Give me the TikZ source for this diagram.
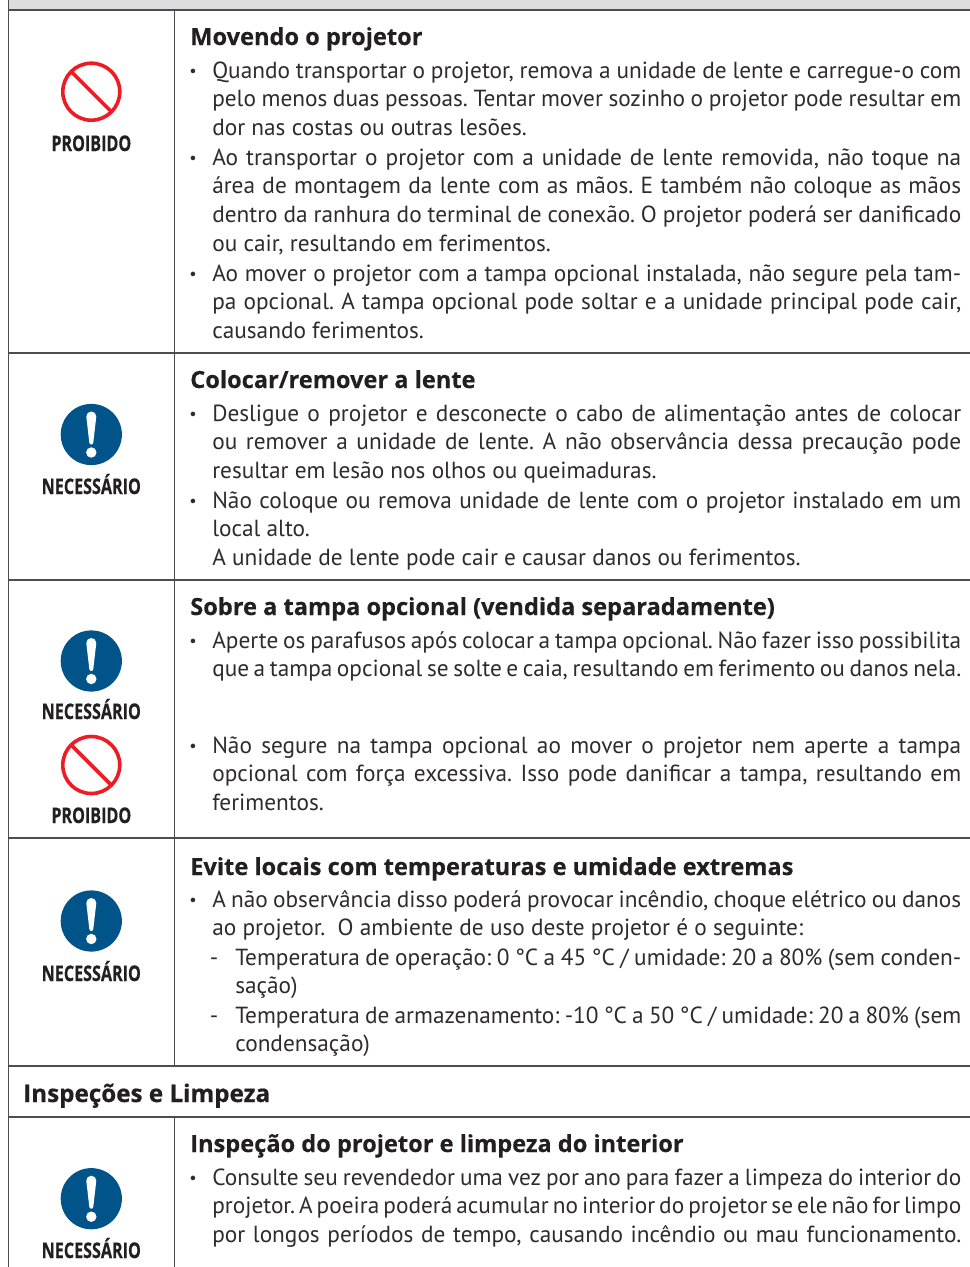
\documentclass[tikz,border=0pt]{standalone}
\usepackage{fontspec}
\setmainfont{PT Sans}
\newfontfamily\headfont[BoldFeatures={FakeBold=0.35}]{Open Sans}
\newfontfamily\signfont[BoldFeatures={FakeBold=0.6}]{Open Sans}
\newdimen\px \px=0.75pt
\definecolor{rulec}{HTML}{4D4D4F}
\definecolor{bandc}{HTML}{DCDDDE}
\definecolor{bodyc}{HTML}{2E2B2C}
\definecolor{headc}{HTML}{231F20}
\definecolor{stopc}{HTML}{ED1C24}
\definecolor{mustc}{HTML}{00548A}
\newcommand\bodyfont{\fontsize{23.3\px}{28.9\px}\selectfont}
\newcommand\jl[2]{\hbox to #1\px{\spaceskip=.23em plus 1em minus .12em\xspaceskip=\spaceskip\frenchspacing\hbadness=10000 \hfuzz=20pt #2}}
\newcommand\nl[1]{\hbox{#1}}
\newcommand\bul{\llap{\raisebox{.05em}{\scalebox{.7}{•}}\hskip 15.5\px}}
\newcommand\dashl{\llap{-\hskip 17\px}}
\tikzset{
  x=0.75pt,y=-0.75pt,
  rulel/.style={draw=rulec,line width=1.3*0.75pt},
  headtxt/.style={anchor=base west,inner sep=0pt,text=headc,font=\headfont\bfseries\fontsize{23.6\px}{29\px}\selectfont},
  sectxt/.style={anchor=base west,inner sep=0pt,text=headc,font=\signfont\bfseries\fontsize{24.2\px}{29\px}\selectfont},
  bodytxt/.style={anchor=base west,inner sep=0pt,text=bodyc,font=\bodyfont},
  signtxt/.style={anchor=base,inner sep=0pt,text=headc,font=\signfont\bfseries\fontsize{21.5\px}{24\px}\selectfont},
  pics/proibido/.style={code={
    \draw[stopc,line width=3.6*0.75pt] (0,0) circle[radius=28.5];
    \draw[stopc,line width=3.6*0.75pt] (-19.5,-19.5) -- (19.5,19.5);
  }},
  pics/necessario/.style={code={
    \fill[mustc] (0,0) circle[radius=30.6];
    \fill[white] (-5,-18) arc[start angle=-180,end angle=0,radius=5] -- (2,8) arc[start angle=0,end angle=180,radius=2] -- cycle;
    \fill[white] (0,18) circle[radius=5.2];
  }},
}
\newcommand\lblP[2]{\node[signtxt] (#1) at (91.3,#2) {\scalebox{.75}[1]{PROIBIDO}};}
\newcommand\lblN[2]{\node[signtxt] (#1) at (91.3,#2) {\scalebox{.75}[1]{NECESSÁRIO}};}
\begin{document}
\begin{tikzpicture}
\useasboundingbox (0,0) rectangle (970,1267);
\clip (0,0) rectangle (970,1267);
% band and rules
\fill[bandc] (8,0) rectangle (970,10);
\path[rulel] (8.5,0) -- (8.5,1267);
\path[rulel] (174.5,10) -- (174.5,1066);
\path[rulel] (174.5,1117) -- (174.5,1267);
\foreach \yy in {10,353,580,838,1066,1117}{\path[rulel] (8,\yy) -- (970,\yy);}
% signs
\pic at (91.3,91.7) {proibido};   \lblP{s1}{151}
\pic at (91.3,434.5) {necessario}; \lblN{s2}{494}
\pic at (91.3,661) {necessario};  \lblN{s3}{719}
\pic at (91.3,765) {proibido};    \lblP{s4}{823}
\pic at (91.3,921) {necessario};  \lblN{s5}{981}
\pic at (91.3,1198.7) {necessario}; \lblN{s6}{1258}
% section 1
\node[headtxt] (h1) at (190,45) {Movendo o projetor};
\node[bodytxt] (t1a) at (212,78) {\vtop{
  \jl{749}{\bul Quando transportar o projetor, remova a unidade de lente e carregue-o com}
  \jl{749}{pelo menos duas pessoas. Tentar mover sozinho o projetor pode resultar em}
  \nl{dor nas costas ou outras lesões.}}};
\node[bodytxt] (t1b) at (212,165) {\vtop{
  \jl{749}{\bul Ao transportar o projetor com a unidade de lente removida, não toque na}
  \jl{749}{área de montagem da lente com as mãos. E também não coloque as mãos}
  \jl{749}{dentro da ranhura do terminal de conexão. O projetor poderá ser danificado}
  \nl{ou cair, resultando em ferimentos.}}};
\node[bodytxt] (t1c) at (212,281) {\vtop{
  \jl{749}{\bul Ao mover o projetor com a tampa opcional instalada, não segure pela tam-}
  \jl{749}{pa opcional. A tampa opcional pode soltar e a unidade principal pode cair,}
  \nl{causando ferimentos.}}};
% section 2
\node[headtxt] (h2) at (190,388) {Colocar/remover a lente};
\node[bodytxt] (t2a) at (212,421) {\vtop{
  \jl{749}{\bul Desligue o projetor e desconecte o cabo de alimentação antes de colocar}
  \jl{749}{ou remover a unidade de lente. A não observância dessa precaução pode}
  \nl{resultar em lesão nos olhos ou queimaduras.}}};
\node[bodytxt] (t2b) at (212,508) {\vtop{
  \jl{749}{\bul Não coloque ou remova unidade de lente com o projetor instalado em um}
  \nl{local alto.}
  \nl{A unidade de lente pode cair e causar danos ou ferimentos.}}};
% section 3
\node[headtxt] (h3) at (190,615) {Sobre a tampa opcional (vendida separadamente)};
\node[bodytxt] (t3a) at (212,648) {\vtop{
  \jl{749}{\bul Aperte os parafusos após colocar a tampa opcional. Não fazer isso possibilita}
  \jl{749}{que a tampa opcional se solte e caia, resultando em ferimento ou danos nela.}}};
\node[bodytxt] (t3b) at (212,753) {\vtop{
  \jl{749}{\bul Não segure na tampa opcional ao mover o projetor nem aperte a tampa}
  \jl{749}{opcional com força excessiva. Isso pode danificar a tampa, resultando em}
  \nl{ferimentos.}}};
% section 4
\node[headtxt] (h4) at (190,875) {Evite locais com temperaturas e umidade extremas};
\node[bodytxt] (t4a) at (212,907) {\vtop{
  \jl{749}{\bul A não observância disso poderá provocar incêndio, choque elétrico ou danos}
  \nl{ao projetor.\ \ O ambiente de uso deste projetor é o seguinte:}}};
\node[bodytxt] (t4b) at (235,965) {\vtop{
  \jl{726}{\dashl Temperatura de operação: 0 °C a 45 °C / umidade: 20 a 80\% (sem conden-}
  \nl{sação)}}};
\node[bodytxt] (t4c) at (235,1023) {\vtop{
  \jl{726}{\dashl Temperatura de armazenamento: -10 °C a 50 °C / umidade: 20 a 80\% (sem}
  \nl{condensação)}}};
% section title
\node[sectxt] (sec) at (23,1102) {Inspeções e Limpeza};
% section 5
\node[headtxt] (h5) at (190,1152) {Inspeção do projetor e limpeza do interior};
\node[bodytxt] (t5a) at (212,1185) {\vtop{
  \jl{749}{\bul Consulte seu revendedor uma vez por ano para fazer a limpeza do interior do}
  \jl{749}{projetor. A poeira poderá acumular no interior do projetor se ele não for limpo}
  \jl{749}{por longos períodos de tempo, causando incêndio ou mau funcionamento.}}};
\end{tikzpicture}
\end{document}
